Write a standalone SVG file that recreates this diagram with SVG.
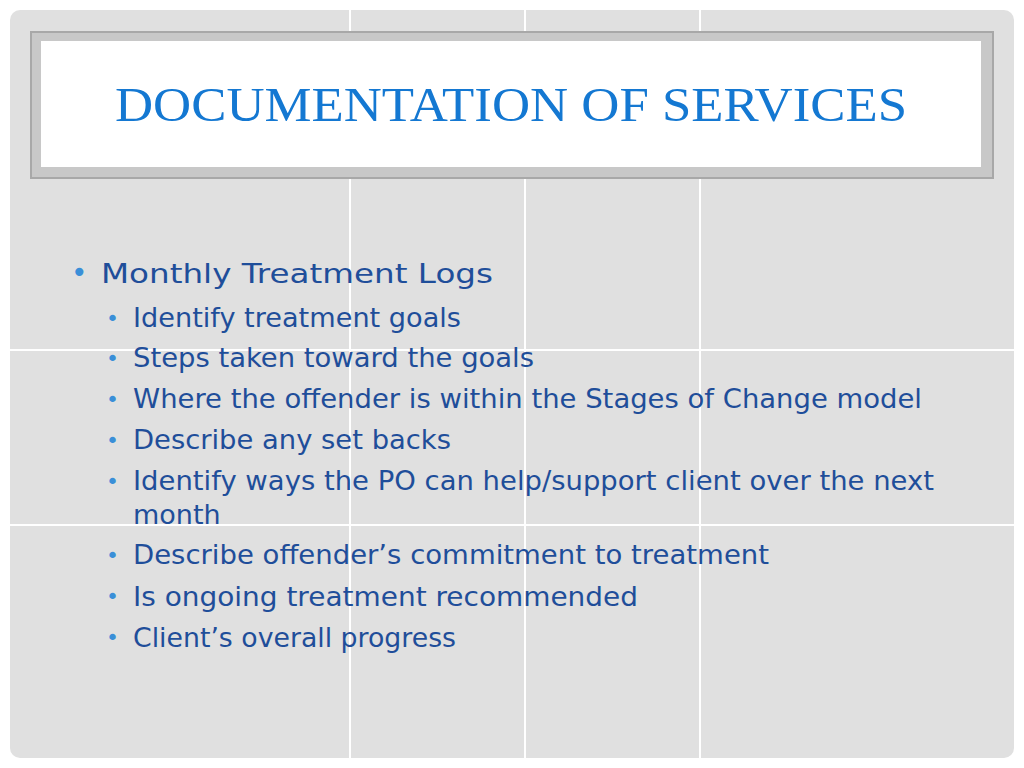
<svg xmlns="http://www.w3.org/2000/svg" width="1024" height="768" viewBox="0 0 1024 768">
<style>
.s{font-family:"DejaVu Sans","Liberation Sans",sans-serif;font-size:27px;fill:#1f4e9a}
.b{font-family:"DejaVu Sans",sans-serif;fill:#3a8fd8}
</style>
<rect width="1024" height="768" fill="#ffffff"/>
<rect x="10" y="10" width="1004" height="748" rx="10" fill="#e0e0e0"/>
<g stroke="#ffffff" stroke-width="2">
<line x1="350" y1="10" x2="350" y2="758"/><line x1="525" y1="10" x2="525" y2="758"/><line x1="700" y1="10" x2="700" y2="758"/>
<line x1="10" y1="350" x2="1014" y2="350"/><line x1="10" y1="525" x2="1014" y2="525"/>
</g>
<g id="title">
<rect x="31" y="32" width="962" height="146" fill="#c8c8c8" stroke="#a8a8a8" stroke-width="2"/>
<rect x="41" y="41" width="940" height="126" fill="#ffffff"/>
<text x="115" y="121" textLength="792" lengthAdjust="spacingAndGlyphs" font-family="Liberation Serif,serif" font-size="49" fill="#1478d2">DOCUMENTATION OF SERVICES</text>
</g>
<g id="body">
<text x="71" y="282" class="b" font-size="28">•</text>
<text x="101" y="283" class="s" font-size="32" textLength="392" lengthAdjust="spacingAndGlyphs">Monthly Treatment Logs</text>
<g class="b" font-size="22">
<text x="106" y="326">•</text><text x="106" y="366">•</text><text x="106" y="407">•</text><text x="106" y="448">•</text><text x="106" y="489">•</text><text x="106" y="563">•</text><text x="106" y="604">•</text><text x="106" y="645">•</text>
</g>
<text x="133" y="327" class="s" textLength="328" lengthAdjust="spacingAndGlyphs">Identify treatment goals</text>
<text x="133" y="367" class="s" textLength="401" lengthAdjust="spacingAndGlyphs">Steps taken toward the goals</text>
<text x="133" y="408" class="s" textLength="789" lengthAdjust="spacingAndGlyphs">Where the offender is within the Stages of Change model</text>
<text x="133" y="449" class="s" textLength="318" lengthAdjust="spacingAndGlyphs">Describe any set backs</text>
<text x="133" y="490" class="s" textLength="801" lengthAdjust="spacingAndGlyphs">Identify ways the PO can help/support client over the next</text>
<text x="133" y="524" class="s">month</text>
<text x="133" y="564" class="s" textLength="636" lengthAdjust="spacingAndGlyphs">Describe offender’s commitment to treatment</text>
<text x="133" y="606" class="s" textLength="505" lengthAdjust="spacingAndGlyphs">Is ongoing treatment recommended</text>
<text x="133" y="647" class="s" textLength="323" lengthAdjust="spacingAndGlyphs">Client’s overall progress</text>
</g>
</svg>
